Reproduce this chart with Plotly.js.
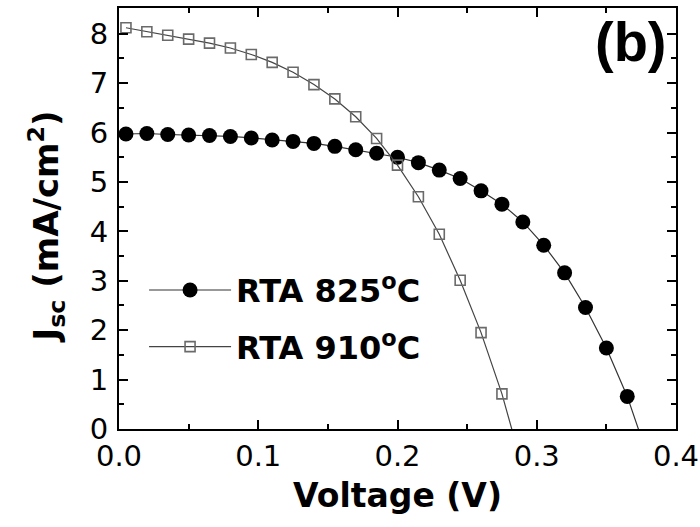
<!DOCTYPE html>
<html>
<head>
<meta charset="utf-8">
<script src="https://cdn.plot.ly/plotly-3.0.1.min.js"></script>
<style>html,body{margin:0;padding:0;background:#fff;}#chart{width:700px;height:527px;}</style>
</head>
<body>
<div id="chart"></div>
<script>
// Data
const voltage825 = [0.005,0.02,0.035,0.05,0.065,0.08,0.095,0.11,0.125,0.14,0.155,0.17,0.185,0.2,0.215,0.23,0.245,0.26,0.275,0.29,0.305,0.32,0.335,0.35,0.365,0.38];
const jsc825 = [5.97,5.98,5.96,5.95,5.94,5.92,5.89,5.85,5.82,5.78,5.72,5.65,5.58,5.50,5.39,5.24,5.07,4.82,4.55,4.19,3.72,3.16,2.46,1.64,0.66,-0.58];
const voltage910 = [0.005,0.02,0.035,0.05,0.065,0.08,0.095,0.11,0.125,0.14,0.155,0.17,0.185,0.2,0.215,0.23,0.245,0.26,0.275,0.29];
const jsc910 = [8.12,8.04,7.97,7.89,7.81,7.71,7.58,7.42,7.22,6.97,6.68,6.32,5.88,5.34,4.70,3.94,3.01,1.95,0.71,-0.8];
const seriesNames = ['RTA 825<sup>o</sup>C', 'RTA 910<sup>o</sup>C'];
const xTickVals = [0, 0.1, 0.2, 0.3, 0.4];
const xTickText = ['0.0', '0.1', '0.2', '0.3', '0.4'];
const yTickVals = [0,1,2,3,4,5,6,7,8];
const xTitle = 'Voltage (V)';
const yTitle = 'J<sub>sc</sub> (mA/cm<sup>2</sup>)';
const panelLabel = '(b)';

const FONT = 'DejaVu Sans, sans-serif';
const FONT_B = 'Liberation Sans, Arial, sans-serif';

const traces = [
  {
    x: voltage825, y: jsc825, name: '<b>' + seriesNames[0] + '</b>',
    type: 'scatter', mode: 'lines+markers', legendgroup: 'a',
    line: {color: '#333333', width: 1.2},
    marker: {symbol: 'circle', size: 15, color: '#000000', line: {width: 0}}
  },
  {
    x: voltage910, y: jsc910, name: '<b>' + seriesNames[1] + '</b>',
    type: 'scatter', mode: 'lines+markers', legendgroup: 'b',
    line: {color: '#444444', width: 1.2},
    marker: {symbol: 'square-open', size: 10, color: '#6a6a6a', line: {width: 1.6, color: '#6a6a6a'}}
  }
];

const axisCommon = {
  showline: true, linecolor: '#000', linewidth: 2, mirror: 'ticks',
  ticks: 'inside', ticklen: 9, tickwidth: 2, tickcolor: '#000',
  showgrid: false, zeroline: false,
  tickfont: {family: FONT, size: 29, color: '#000'}
};

const layout = {
  width: 700, height: 527,
  margin: {l: 119, r: 24, t: 8, b: 98, pad: 0},
  paper_bgcolor: '#fff', plot_bgcolor: '#fff',
  showlegend: true,
  legend: {
    x: 0.045, y: 0.395, xanchor: 'left', yanchor: 'top',
    bgcolor: 'rgba(0,0,0,0)', borderwidth: 0,
    font: {family: FONT, size: 32, color: '#000'},
    traceorder: 'grouped', tracegroupgap: 12, itemwidth: 82
  },
  xaxis: Object.assign({}, axisCommon, {
    range: [0, 0.4], tickvals: xTickVals, ticktext: xTickText,
    minor: {dtick: 0.05, tick0: 0, ticks: 'inside', ticklen: 5, tickwidth: 2, tickcolor: '#000'},
    title: {text: '<b>' + xTitle + '</b>', font: {family: FONT, size: 33, color: '#000'}, standoff: 12}
  }),
  yaxis: Object.assign({}, axisCommon, {
    range: [0, 8.52], tickvals: yTickVals, ticklabelstandoff: 3,
    minor: {dtick: 0.5, tick0: 0, ticks: 'inside', ticklen: 5, tickwidth: 2, tickcolor: '#000'}
  }),
  annotations: [
    {
      xref: 'paper', yref: 'paper', x: 0.988, y: 1.0, xanchor: 'right', yanchor: 'top',
      text: '<b>' + panelLabel + '</b>', showarrow: false, font: {family: FONT_B, size: 56, color: '#000'}
    },
    {
      xref: 'paper', yref: 'paper', x: -0.13, y: 0.48, xanchor: 'center', yanchor: 'middle',
      textangle: -90, text: '<b>' + yTitle + '</b>', showarrow: false,
      font: {family: FONT, size: 34, color: '#000'}
    }
  ]
};

Plotly.newPlot('chart', traces, layout, {displayModeBar: false, staticPlot: true});
</script>
</body>
</html>
